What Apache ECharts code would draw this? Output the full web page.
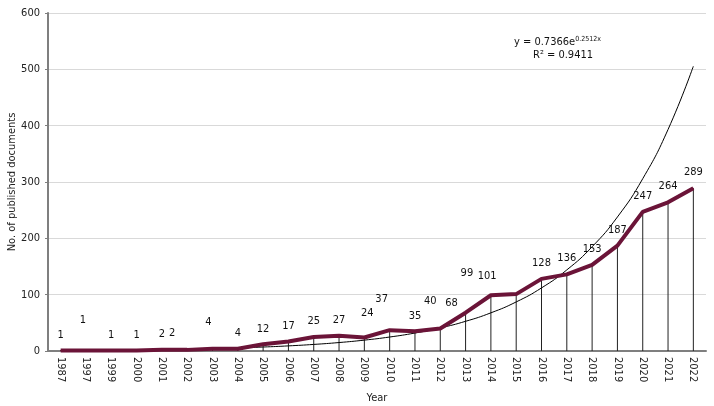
<!DOCTYPE html>
<html>
<head>
<meta charset="utf-8">
<title>Published documents per year</title>
<script src="https://cdn.jsdelivr.net/npm/echarts@6/dist/echarts.min.js"></script>
<style>
  html, body { margin: 0; padding: 0; background: #fff; }
  #chart { width: 714px; height: 406px; }
</style>
</head>
<body>
<div id="chart"></div>
<script>
  // data
  var years = ['1987', '1997', '1999', '2000', '2001', '2002', '2003', '2004', '2005', '2006',
    '2007', '2008', '2009', '2010', '2011', '2012', '2013', '2014', '2015', '2016',
    '2017', '2018', '2019', '2020', '2021', '2022'];
  var docs = [1, 1, 1, 1, 2, 2, 4, 4, 12, 17, 25, 27, 24, 37, 35, 40, 68, 99, 101, 128,
    136, 153, 187, 247, 264, 289];
  var yTicks = [0, 100, 200, 300, 400, 500, 600];

  // exponential trendline as printed on the chart: y = a * e^(b*x), x = 1..n
  var trendA = 0.7366;
  var trendB = 0.2512;
  var trendR2 = 0.9411;

  // label nudges [dx, dy] (the original labels were moved by hand)
  var labelShift = [[0, -4], [-3, -19], [0, -4], [0, -4], [0, -5], [-15, -6], [-4, -16], [0, -5],
    [0, -4], [0, -4], [0, -5], [0, -5], [3, -13], [-8, -20], [0, -4], [-10, -16], [-14, 1],
    [-24, -11], [-29, -7], [0, -5], [0, -5], [0, -5], [0, -5], [0, -5], [0, -5], [0, -5]];

  var trend = [];
  for (var i = 0; i < years.length; i++) {
    trend.push(+(trendA * Math.exp(trendB * (i + 1))).toFixed(2));
  }

  var lineData = [];
  for (var j = 0; j < docs.length; j++) {
    lineData.push({
      value: docs[j],
      label: { offset: labelShift[j] }
    });
  }

  var font = '"DejaVu Sans Condensed", "DejaVu Sans", sans-serif';
  var chart = echarts.init(document.getElementById('chart'));
  chart.setOption({
    animation: false,
    textStyle: { fontFamily: font },
    grid: { left: 48, right: 8, top: 13, bottom: 55, outerBoundsMode: 'none', containLabel: false },
    xAxis: {
      type: 'category',
      data: years,
      name: 'Year',
      nameLocation: 'middle',
      nameGap: 42,
      nameMoveOverlap: false,
      nameTextStyle: { color: '#222', fontSize: 11, fontFamily: font },
      axisLine: { lineStyle: { color: '#7f7f7f', width: 2 } },
      axisTick: { show: false },
      axisLabel: { rotate: -90, color: '#222', fontSize: 11, margin: 6, fontFamily: font }
    },
    yAxis: {
      type: 'value',
      min: yTicks[0],
      max: yTicks[yTicks.length - 1],
      interval: 100,
      name: 'No. of published documents',
      nameLocation: 'middle',
      nameRotate: 90,
      nameGap: 30,
      nameMoveOverlap: false,
      nameTextStyle: { color: '#222', fontSize: 11, fontFamily: font },
      axisLine: { show: true, lineStyle: { color: '#7f7f7f', width: 2 } },
      axisTick: { show: true, length: 3, lineStyle: { color: '#7f7f7f' } },
      axisLabel: { color: '#222', fontSize: 11, margin: 8, fontFamily: font },
      splitLine: { lineStyle: { color: '#d9d9d9' } }
    },
    series: [
      {
        // drop lines from each point to the axis
        type: 'bar',
        data: docs,
        barWidth: 1,
        itemStyle: { color: '#222' },
        silent: true,
        z: 1
      },
      {
        type: 'line',
        data: trend,
        smooth: true,
        symbol: 'none',
        lineStyle: { color: '#000', width: 1 },
        silent: true,
        z: 2
      },
      {
        type: 'line',
        data: lineData,
        symbol: 'circle',
        symbolSize: 1,
        showSymbol: true,
        itemStyle: { color: '#6b1438' },
        lineStyle: { color: '#6b1438', width: 4 },
        label: {
          show: true,
          position: 'top',
          color: '#111',
          fontSize: 11,
          fontFamily: font
        },
        z: 3
      }
    ],
    graphic: [
      {
        type: 'text',
        left: 514,
        top: 36,
        style: {
          text: '{b|y = ' + trendA + 'e}{s|' + trendB + 'x}',
          rich: {
            b: { fontSize: 11, fontFamily: font, fill: '#111' },
            s: { fontSize: 7, fontFamily: font, fill: '#111', verticalAlign: 'top', padding: [0, 0, 6, 0] }
          }
        }
      },
      {
        type: 'text',
        left: 533,
        top: 50,
        style: {
          text: 'R\u00b2 = ' + trendR2,
          fontSize: 11,
          fontFamily: font,
          fill: '#111'
        }
      }
    ]
  });
</script>
</body>
</html>
